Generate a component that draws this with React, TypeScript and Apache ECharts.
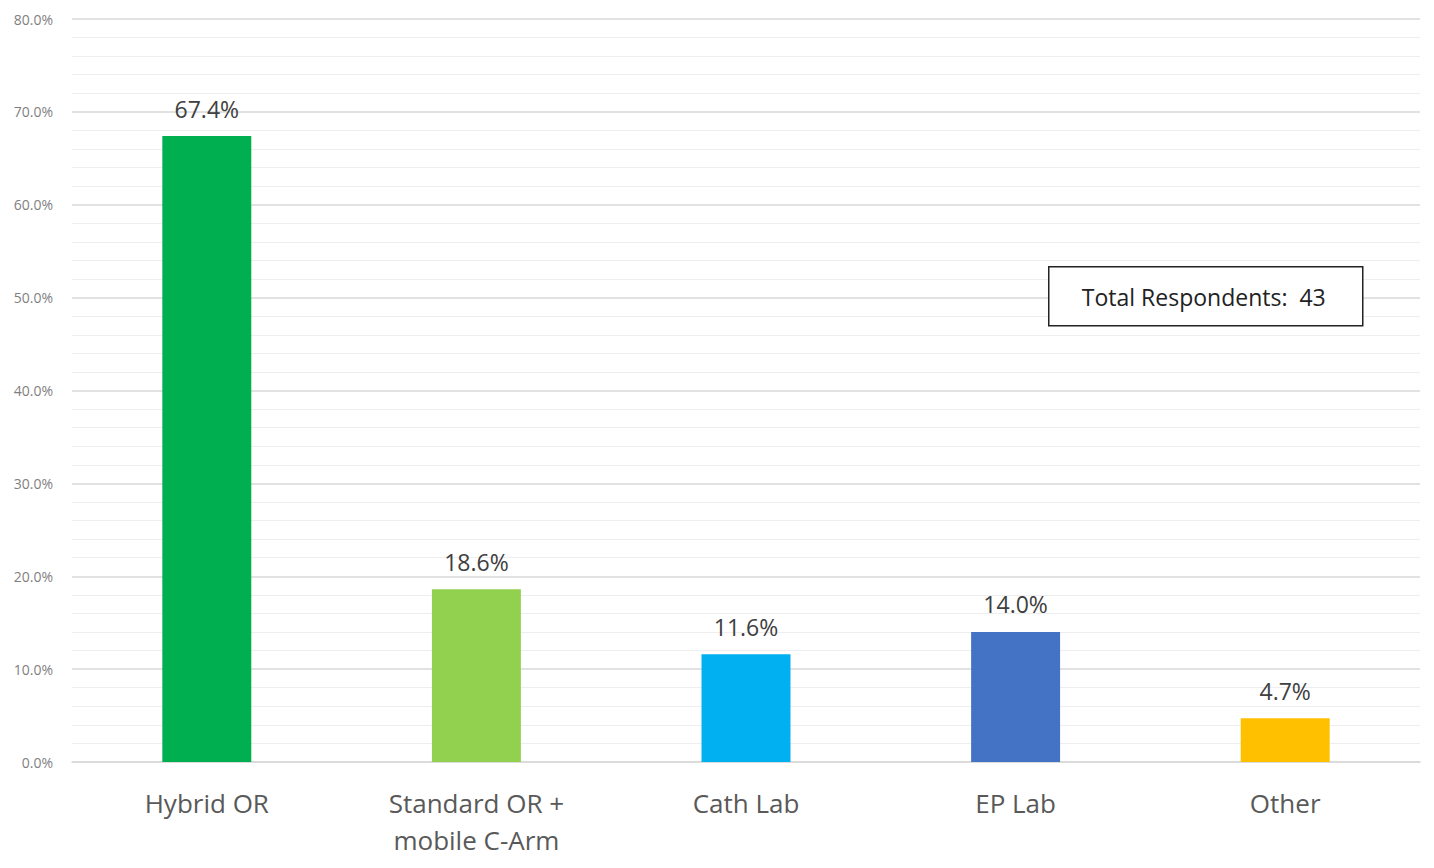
import React, { useEffect, useRef } from "react";
import * as echarts from "echarts";

const categories = ["Hybrid OR", "Standard OR +\nmobile C-Arm", "Cath Lab", "EP Lab", "Other"];
const values = [67.4, 18.6, 11.6, 14.0, 4.7];
const colors = ["#00B050", "#92D050", "#00B0F0", "#4472C4", "#FFC000"];
const totalLabel = "Total Respondents:  43";

const FONT = "'Open Sans', Lato, sans-serif";

export default function App() {
  const ref = useRef<HTMLDivElement>(null);
  useEffect(() => {
    const chart = echarts.init(ref.current!, null, { renderer: "svg" });
    chart.setOption({
      animation: false,
      backgroundColor: "#ffffff",
      textStyle: { fontFamily: FONT },
      grid: { left: 72, right: 14, top: 19, bottom: 106 },
      xAxis: {
        type: "category",
        data: categories,
        axisTick: { show: false },
        axisLine: { lineStyle: { color: "#d9d9d9", width: 1.5 } },
        axisLabel: { color: "#595959", fontSize: 26, margin: 22, lineHeight: 37, fontFamily: FONT },
      },
      yAxis: {
        type: "value",
        min: 0,
        max: 80,
        interval: 10,
        axisLabel: {
          color: "#7f7f7f",
          fontSize: 14,
          margin: 19,
          fontFamily: FONT,
          formatter: (v: number) => v.toFixed(1) + "%",
        },
        axisLine: { show: false },
        axisTick: { show: false },
        splitLine: { lineStyle: { color: "#d9d9d9", width: 1.5 } },
        minorTick: { show: false, splitNumber: 5 },
        minorSplitLine: { show: true, lineStyle: { color: "#eeeeee", width: 1 } },
      },
      series: [
        {
          type: "bar",
          data: values.map((v, i) => ({ value: v, itemStyle: { color: colors[i] } })),
          barWidth: "33%",
          label: {
            show: true,
            position: "top",
            distance: 16,
            color: "#404040",
            fontSize: 23,
            fontFamily: FONT,
            formatter: (p: any) => p.value.toFixed(1) + "%",
          },
        },
      ],
      graphic: [
        {
          type: "group",
          left: 1048,
          top: 266,
          z: 100,
          children: [
            {
              type: "rect",
              z: 100,
              shape: { x: 0, y: 0, width: 314, height: 59 },
              style: { fill: "#ffffff", stroke: "#222222", lineWidth: 1.5 },
            },
            {
              type: "text",
              z: 101,
              x: 155,
              y: 30,
              style: {
                text: totalLabel,
                fill: "#222222",
                fontSize: 23,
                fontFamily: FONT,
                align: "center",
                verticalAlign: "middle",
              },
            },
          ],
        },
      ],
    });
    return () => chart.dispose();
  }, []);
  return (
    <div
      ref={ref}
      style={{ position: "fixed", left: 0, top: 0, width: 1434, height: 868 }}
    />
  );
}
